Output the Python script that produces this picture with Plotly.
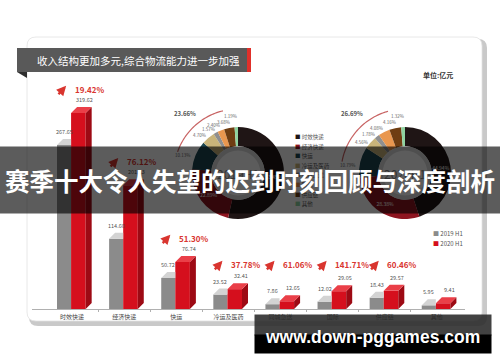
import numpy as np
import plotly.graph_objects as go

# ---------------- data ----------------
categories = ["时效快递", "经济快递", "快运", "冷运及医药", "同城急送", "国际", "供应链", "其他"]
revenue_2019h1 = [267.65, 114.60, 50.72, 23.52, 7.86, 12.02, 18.43, 5.95]
revenue_2020h1 = [319.62, 201.83, 76.74, 32.41, 12.65, 29.05, 29.57, 9.41]
growth_labels = ["19.42%", "76.12%", "51.30%", "37.78%", "61.06%", "141.71%", "60.46%"]
series_names = ["2019 H1", "2020 H1"]
donut_names = ["2019H1", "2020H1"]
arc_share_labels = ["23.66%", "26.69%"]
title_text = "收入结构更加多元,综合物流能力进一步加强"
unit_text = "单位:亿元"
banner_text = "赛季十大令人失望的迟到时刻回顾与深度剖析"
watermark_text = "www.down-pggames.com"

# ---------------- styles ----------------
FONT = "Noto Sans CJK SC"
slice_colors = ["#1f1515", "#8e1520", "#1d4650", "#c9b47a", "#8f8f8f", "#e9974f", "#6e3d12", "#8fd3a0"]
gray_face, gray_top = "#8b8b8b", "#d3d3d3"
red_face, red_side, red_top = "#d50f1d", "#9d0a14", "#ea3f48"
growth_red = "#d9352f"

W, H = 500, 362
def px(x): return x / W
def py(y): return 1 - y / H

X0, X1 = 32, 465
BASE, TOP = 309, 80
PX_PER_UNIT = 0.613
xr = [-0.77, 7.54]
unit_px_x = (X1 - X0) / (xr[1] - xr[0])
ymax = (BASE - TOP) / PX_PER_UNIT
DX = 6 / unit_px_x
DY = 6 / PX_PER_UNIT
G_OFF, G_W = -0.29, 0.27
R_OFF, R_W = -0.02, 0.28

fig = go.Figure()
idx = np.arange(len(categories))

fig.add_trace(go.Bar(x=idx, y=revenue_2019h1, offset=G_OFF, width=G_W, name=series_names[0],
                     marker=dict(color=gray_face, line=dict(width=0)), hoverinfo="skip"))
fig.add_trace(go.Bar(x=idx, y=revenue_2020h1, offset=R_OFF, width=R_W, name=series_names[1],
                     marker=dict(color=red_face, line=dict(width=0)), hoverinfo="skip"))

def polys(pts_list):
    xs, ys = [], []
    for pts in pts_list:
        for a, b in pts:
            xs.append(a); ys.append(b)
        xs.append(pts[0][0]); ys.append(pts[0][1])
        xs.append(None); ys.append(None)
    return xs, ys

g_tops, r_sides, r_tops = [], [], []
for i, (g, r) in enumerate(zip(revenue_2019h1, revenue_2020h1)):
    gx0, gx1 = i + G_OFF, i + G_OFF + G_W
    g_tops.append([(gx0, g), (gx1, g), (gx1, g + DY), (gx0 + DX, g + DY)])
    rx0, rx1 = i + R_OFF, i + R_OFF + R_W
    r_sides.append([(rx1, 0), (rx1 + DX, DY), (rx1 + DX, r + DY), (rx1, r)])
    r_tops.append([(rx0, r), (rx1, r), (rx1 + DX, r + DY), (rx0 + DX, r + DY)])

for pl, col in [(g_tops, gray_top), (r_sides, red_side), (r_tops, red_top)]:
    xs, ys = polys(pl)
    fig.add_trace(go.Scatter(x=xs, y=ys, mode="lines", fill="toself", fillcolor=col,
                             line=dict(width=0, color=col), hoverinfo="skip", showlegend=False))

# ---------------- donuts ----------------
donut_cx = [238, 405]
CY, R, HOLE = 173, 46, 0.58
ann = []

def A(x, y, text, size, color="#444", xanchor="center", yanchor="middle", **kw):
    d = dict(x=px(x), y=py(y), xref="paper", yref="paper", text=text, showarrow=False,
             font=dict(size=size, color=color, family=FONT), xanchor=xanchor, yanchor=yanchor)
    d.update(kw)
    ann.append(d)

shapes = []
for j, vals in enumerate([revenue_2019h1, revenue_2020h1]):
    cx = donut_cx[j]
    tot = sum(vals)
    shares = [v / tot for v in vals]
    inside = [f"{s*100:.2f}%" if k < 2 else "" for k, s in enumerate(shares)]
    fig.add_trace(go.Pie(values=vals, labels=categories, sort=False, direction="clockwise", rotation=0,
                         hole=HOLE, marker=dict(colors=slice_colors, line=dict(width=0)),
                         text=inside, textinfo="text", textposition="inside",
                         insidetextorientation="horizontal",
                         insidetextfont=dict(size=5, color="white", family=FONT),
                         domain=dict(x=[px(cx - R), px(cx + R)], y=[py(CY + R), py(CY - R)]),
                         showlegend=False, hoverinfo="skip"))
    ri = R * HOLE
    fig.add_trace(go.Pie(values=[1], hole=0.84, marker=dict(colors=["#dcdcdc"], line=dict(width=0)),
                         textinfo="none", sort=False,
                         domain=dict(x=[px(cx - ri), px(cx + ri)], y=[py(CY + ri), py(CY - ri)]),
                         showlegend=False, hoverinfo="skip"))
    # outside small labels (fanned out slightly like the reference)
    cum = 0
    for k, s in enumerate(shares):
        mid_cw = (cum + s / 2) * 360
        cum += s
        if k < 2:
            continue
        a = np.radians(90 - mid_cw + 5)
        rr = 58 if k == 2 else (57 if k == 7 else 53.5)
        A(cx + rr * np.cos(a), CY - rr * np.sin(a), f"{s*100:.2f}%", 4.5, "#666")
    # arc over the non-express segments
    span = sum(shares[2:]) * 360
    angs = np.radians(np.linspace(90 + 0.16 * span, 90 + 0.83 * span, 40))
    ra = 64
    pts = [(cx + ra * np.cos(t), CY - ra * np.sin(t)) for t in angs]
    path = "M" + " L".join(f"{px(x):.5f},{py(y):.5f}" for x, y in pts)
    shapes.append(dict(type="path", path=path, xref="paper", yref="paper",
                       line=dict(color="#c86464", width=1.2), layer="above"))
    A(cx - 53, CY - 59, f"<b>{arc_share_labels[j]}</b>", 6, "#555")
    A(cx, CY, donut_names[j], 12, "#8a8a8a")

# ---------------- card / title shapes ----------------
def rrect(x0, y0, x1, y1, r):
    return (f"M{px(x0+r)},{py(y0)} L{px(x1-r)},{py(y0)} Q{px(x1)},{py(y0)} {px(x1)},{py(y0+r)} "
            f"L{px(x1)},{py(y1-r)} Q{px(x1)},{py(y1)} {px(x1-r)},{py(y1)} "
            f"L{px(x0+r)},{py(y1)} Q{px(x0)},{py(y1)} {px(x0)},{py(y1-r)} "
            f"L{px(x0)},{py(y0+r)} Q{px(x0)},{py(y0)} {px(x0+r)},{py(y0)} Z")

base_shapes = [
    dict(type="path", path=rrect(29, 39, 487, 326, 9), fillcolor="#c9c9c9", line=dict(width=0)),
    dict(type="path", path=rrect(27, 37, 482, 321, 9), fillcolor="white", line=dict(color="#e2e2e2", width=0.8)),
    dict(type="rect", x0=px(17), x1=px(247), y0=py(72), y1=py(48), fillcolor="#595959", line=dict(width=0)),
    dict(type="rect", x0=px(247), x1=px(251), y0=py(72), y1=py(48), fillcolor="#e0302a", line=dict(width=0)),
    dict(type="path", path=f"M{px(17)},{py(72)} L{px(27)},{py(72)} L{px(27)},{py(78)} Z",
         fillcolor="#2e2e2e", line=dict(width=0)),
]
for s in base_shapes:
    s.update(xref="paper", yref="paper", layer="below")
shapes = base_shapes + shapes

# ---------------- text annotations ----------------
A(35, 60, title_text, 10.5, "white", xanchor="left")
A(438, 75, f"<b>{unit_text}</b>", 7, "#333")

# legend for donuts
for k, (name, col) in enumerate(zip(categories, slice_colors)):
    A(293, 137 + 9.6 * k, f'<span style="color:{col}">■</span> {name}', 5.5, "#555", xanchor="left")
# legend for bars
A(431, 233, f'<span style="color:{gray_face}">■</span> {series_names[0]}', 6, "#555", xanchor="left")
A(431, 243, f'<span style="color:{red_face}">■</span> {series_names[1]}', 6, "#555", xanchor="left")

# bar value labels
for i, (g, r) in enumerate(zip(revenue_2019h1, revenue_2020h1)):
    ann.append(dict(x=i + G_OFF + G_W / 2, y=g + DY, xref="x", yref="y", text=f"{g:.2f}",
                    showarrow=False, yanchor="bottom", yshift=1,
                    font=dict(size=5.5, color="#555", family=FONT)))
    ann.append(dict(x=i + R_OFF + R_W / 2 + DX, y=r + DY, xref="x", yref="y", text=f"{r:.2f}",
                    showarrow=False, yanchor="bottom", yshift=1,
                    font=dict(size=5.5, color="#555", family=FONT)))

# growth labels with arrows
for i, lab in enumerate(growth_labels):
    yl = max(revenue_2020h1[i] + 38, 72)
    ann.append(dict(x=i + 0.01, y=yl, xref="x", yref="y", text=f"<b>{lab}</b>", showarrow=False,
                    xanchor="left", yanchor="middle", font=dict(size=8, color=growth_red, family=FONT)))
    ann.append(dict(x=i - 0.115, y=yl + 4 / PX_PER_UNIT, xref="x", yref="y", text="", showarrow=True,
                    ax=-9, ay=10, arrowhead=2, arrowsize=0.8, arrowwidth=2.4, arrowcolor=growth_red))

# overlay banner
ann.append(dict(x=0.5, y=py(180), xref="paper", yref="paper", text=f"<b>{banner_text}</b>",
                showarrow=False, font=dict(size=24.5, color="white", family=FONT),
                bgcolor="rgba(0,0,0,0.64)", width=520, height=66, borderpad=0,
                xanchor="center", yanchor="middle"))
# watermark
ann.append(dict(x=px(373), y=py(325), xref="paper", yref="paper", text="\u00a0", showarrow=False,
                bgcolor="rgba(40,40,40,0.88)", width=236, height=20, borderpad=0,
                xanchor="center", yanchor="middle", font=dict(size=4)))
ann.append(dict(x=px(373), y=py(344), xref="paper", yref="paper", text="\u00a0", showarrow=False,
                bgcolor="black", width=236, height=18, borderpad=0,
                xanchor="center", yanchor="middle", font=dict(size=4)))
ann.append(dict(x=px(372), y=py(337), xref="paper", yref="paper", text=f"<b>{watermark_text}</b>",
                showarrow=False, xanchor="center", yanchor="middle",
                font=dict(size=17.5, color="white", family="Liberation Sans")))

fig.update_layout(
    width=W, height=H, margin=dict(l=0, r=0, t=0, b=0),
    paper_bgcolor="white", plot_bgcolor="rgba(0,0,0,0)",
    showlegend=False, barmode="overlay",
    font=dict(family=FONT),
    xaxis=dict(domain=[px(X0), px(X1)], range=xr, tickvals=list(idx), ticktext=categories,
               tickfont=dict(size=6, color="#444", family=FONT), showline=True, linecolor="#b0b0b0",
               linewidth=1, showgrid=False, zeroline=False, ticks="", ticklabelstandoff=2,
               minor=dict(tickvals=[k + 0.5 for k in range(7)], ticks="outside", ticklen=2,
                          tickcolor="#b0b0b0", showgrid=False),
               fixedrange=True),
    yaxis=dict(domain=[py(BASE), py(TOP)], range=[0, ymax], visible=False, fixedrange=True),
    shapes=shapes, annotations=ann,
)

fig.write_html("out.html", config={"displayModeBar": False},
               post_script="document.body.style.margin='0';")
